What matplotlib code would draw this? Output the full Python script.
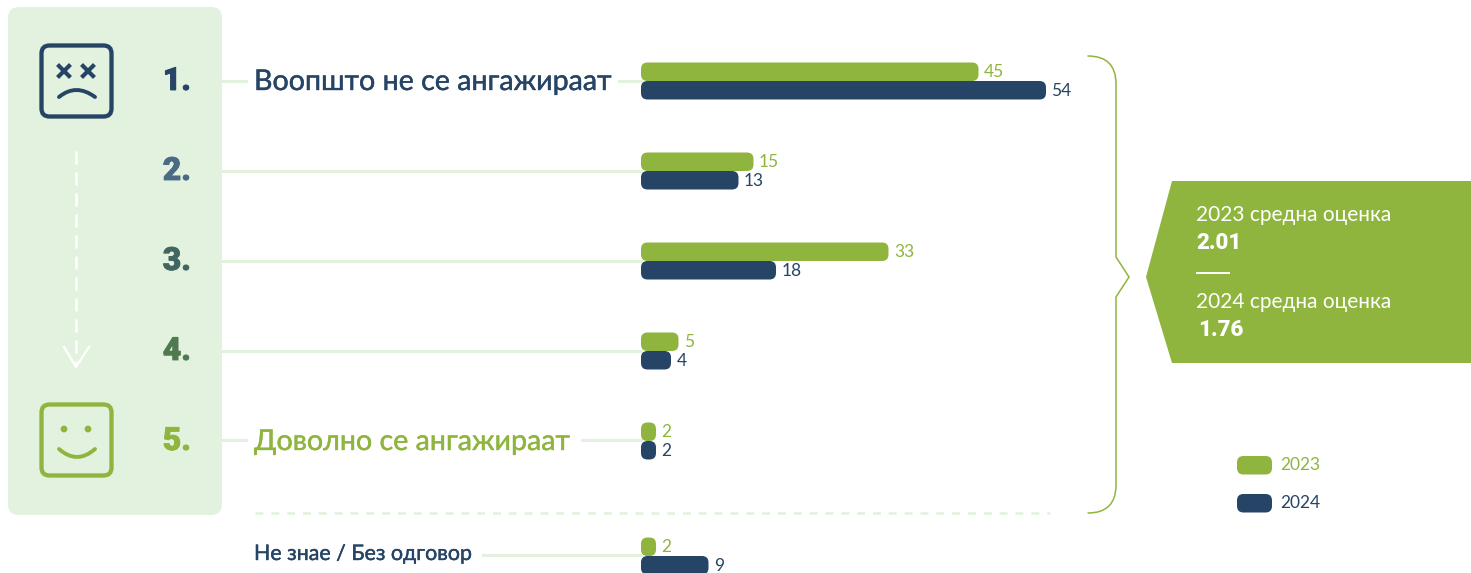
import matplotlib
matplotlib.use('Agg')
import matplotlib.pyplot as plt
import matplotlib.patheffects as pe
from matplotlib.patches import FancyBboxPatch, PathPatch, Polygon, Circle
from matplotlib.path import Path

plt.rcParams['font.family'] = ['Lato', 'Noto Sans', 'DejaVu Sans']

# data
values_2023 = [45, 15, 33, 5, 2, 2]
values_2024 = [54, 13, 18, 4, 2, 9]
rank_labels = ['1.', '2.', '3.', '4.', '5.']
top_label = 'Воопшто не се ангажираат'
bottom_label = 'Доволно се ангажираат'
dk_label = 'Не знае / Без одговор'
avg_titles = ['2023 средна оценка', '2024 средна оценка']
avg_values = ['2.01', '1.76']
legend_years = ['2023', '2024']

# colours
GREEN = '#8FB53E'
NAVY = '#264465'
PALE = '#E3F2DE'
rank_colors = [NAVY, '#4A6A85', '#41665F', '#4F7A50', GREEN]

# the whole figure is one axes in pixels
fig = plt.figure(figsize=(14.71, 5.73), dpi=100)
ax = fig.add_axes([0, 0, 1, 1])
ax.set_xlim(0, 1471)
ax.set_ylim(573, 0)
ax.axis('off')

X0 = 641       # start of bars
SCALE = 7.5    # px per point
BAR_H = 18.5
row_y = [81, 171, 261, 351, 441, 556]


def rbox(x, y, w, h, r, fc='none', ec='none', lw=0, z=2):
    r = min(r, w / 2, h / 2)
    p = FancyBboxPatch((x + r, y + r), w - 2 * r, h - 2 * r,
                       boxstyle=f'round,pad={r},rounding_size={r}',
                       fc=fc, ec=ec, lw=lw, zorder=z)
    ax.add_patch(p)


def curve(pts, codes, color, lw, z=4, cap='round'):
    ax.add_patch(PathPatch(Path(pts, codes), fc='none', ec=color, lw=lw,
                           zorder=z, capstyle=cap, joinstyle='miter'))


# left panel
rbox(8, 7, 214, 508, 11, fc=PALE, z=1)

# connector lines
ax.plot([222, 246], [81, 81], color=PALE, lw=2.2, zorder=1)
ax.plot([619, 641], [81, 81], color=PALE, lw=2.2, zorder=1)
for y in row_y[1:4]:
    ax.plot([222, 641], [y, y], color=PALE, lw=2.2, zorder=1)
ax.plot([222, 246], [440, 440], color=PALE, lw=2.2, zorder=1)
ax.plot([582, 641], [440, 440], color=PALE, lw=2.2, zorder=1)
ax.plot([483, 641], [555, 555], color=PALE, lw=2.2, zorder=1)

# dashed separator
ax.plot([255, 1050], [513, 513], color=PALE, lw=1.9, dashes=(3, 3), zorder=1)

# sad face
rbox(41.5, 45.5, 70, 71, 8, ec=NAVY, lw=3.1)
for cx in [64, 88]:
    ax.plot([cx - 5, cx + 5], [66, 76], color=NAVY, lw=3, zorder=3)
    ax.plot([cx - 5, cx + 5], [76, 66], color=NAVY, lw=3, zorder=3)
curve([(59, 97), (76, 83), (95, 97)], [Path.MOVETO, Path.CURVE3, Path.CURVE3], NAVY, 2.8)

# happy face
rbox(41.5, 404.5, 70, 71, 8, ec=GREEN, lw=3.1)
for cx in [64, 88]:
    ax.add_patch(Circle((cx, 429), 3.4, fc=GREEN, ec='none', zorder=3))
curve([(59, 449), (77, 465), (95, 449)], [Path.MOVETO, Path.CURVE3, Path.CURVE3], GREEN, 2.8)

# dashed arrow
ax.plot([76, 76], [151, 365], color='white', lw=1.8, dashes=(5.2, 3.2), zorder=3)
ax.plot([64, 76, 89], [347, 367, 347], color='white', lw=1.6, zorder=3)

# rank numbers
for lab, y, col in zip(rank_labels, row_y, rank_colors):
    ax.text(191, y, lab, color=col, fontsize=23, fontweight='black', ha='right',
            va='center', family=['Roboto', 'DejaVu Sans'], zorder=3,
            path_effects=[pe.withStroke(linewidth=0.6, foreground=col)])

# row labels
stroke = [pe.withStroke(linewidth=0.3, foreground=NAVY)]
ax.text(254, 82, top_label, color=NAVY, fontsize=20.6, va='center', ha='left', zorder=3, path_effects=stroke)
ax.text(254, 442, bottom_label, color=GREEN, fontsize=20.6, va='center', ha='left', zorder=3,
        path_effects=[pe.withStroke(linewidth=0.3, foreground=GREEN)])
ax.text(254, 554, dk_label, color=NAVY, fontsize=15.4, va='center', ha='left', zorder=3, path_effects=stroke)

# bars and their values
for y, a, b in zip(row_y, values_2023, values_2024):
    rbox(X0, y - BAR_H, a * SCALE, BAR_H, 6.5, fc=GREEN, z=2)
    rbox(X0, y, b * SCALE, BAR_H, 6.5, fc=NAVY, z=2)
    ax.text(X0 + a * SCALE + 5.5, y - 9, str(a), color=GREEN, fontsize=12.5, va='center', zorder=3)
    ax.text(X0 + b * SCALE + 5.5, y + 10, str(b), color=NAVY, fontsize=12.5, va='center', zorder=3)

# bracket
MOVE, LINE, C3 = Path.MOVETO, Path.LINETO, Path.CURVE3
curve([(1088, 56), (1116, 56), (1116, 84), (1116, 257), (1129, 277), (1116, 297),
       (1116, 485), (1116, 513), (1088, 513)],
      [MOVE, C3, C3, LINE, LINE, LINE, LINE, C3, C3], GREEN, 1.1)

# callout
ax.add_patch(Polygon([(1172, 181), (1471, 181), (1471, 363), (1172, 363), (1146, 277)],
                     closed=True, fc=GREEN, ec='none', zorder=2))
ax.text(1196, 215, avg_titles[0], color='white', fontsize=15, va='center', zorder=3)
ax.text(1196, 243, avg_values[0], color='white', fontsize=16, fontweight='black', va='center',
        family=['Roboto', 'DejaVu Sans'], zorder=3)
ax.plot([1197, 1229], [273, 273], color='white', lw=1.4, zorder=3)
ax.text(1196, 302, avg_titles[1], color='white', fontsize=15, va='center', zorder=3)
ax.text(1198, 330, avg_values[1], color='white', fontsize=16, fontweight='black', va='center',
        family=['Roboto', 'DejaVu Sans'], zorder=3)

# legend
rbox(1237, 456, 35, 18.5, 6.5, fc=GREEN)
rbox(1237, 494, 35, 18.5, 6.5, fc=NAVY)
ax.text(1280, 465, legend_years[0], color=GREEN, fontsize=12.5, va='center', zorder=3)
ax.text(1280, 503, legend_years[1], color=NAVY, fontsize=12.5, va='center', zorder=3)

fig.savefig('out.png', dpi=100)
